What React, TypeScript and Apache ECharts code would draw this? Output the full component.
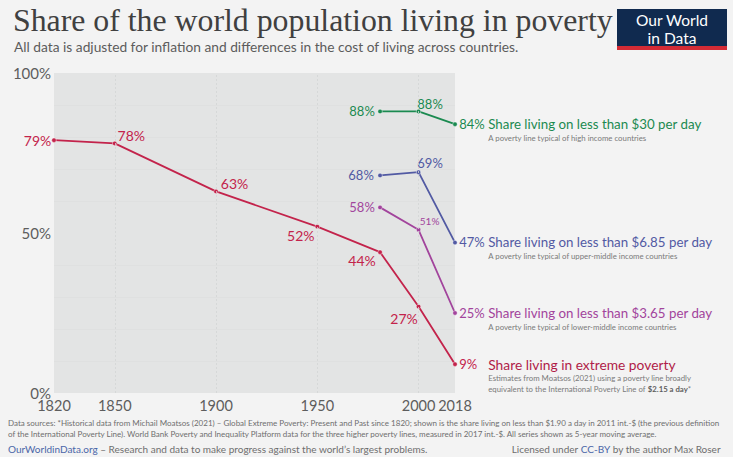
import React, { useEffect, useRef } from "react";
import * as echarts from "echarts";

// ---------- data ----------
const extremeYears = [1820, 1850, 1900, 1950, 1981, 2000, 2018];
const extremeValues = [79, 78, 63, 52, 44, 27, 9];
const wbYears = [1981, 2000, 2018];
const under30Values = [88, 88, 84];
const under685Values = [68, 69, 47];
const under365Values = [58, 51, 25];
const xTickValues = [1820, 1850, 1900, 1950, 2000, 2018];
const xGridYears = [1850, 1900, 1950, 2000];

const seriesNames = [
  "Share living on less than $30 per day",
  "Share living on less than $6.85 per day",
  "Share living on less than $3.65 per day",
  "Share living in extreme poverty",
];
const seriesNotes = [
  "{s|A poverty line typical of high income countries}",
  "{s|A poverty line typical of upper-middle income countries}",
  "{s|A poverty line typical of lower-middle income countries}",
  "{s|Estimates from Moatsos (2021) using a poverty line broadly}\n{s|equivalent to the International Poverty Line of }{b|$2.15 a day}{n|*}",
];

const TITLE = "Share of the world population living in poverty";
const SUBTITLE =
  "All data is adjusted for inflation and differences in the cost of living across countries.";
const SOURCE1 =
  "Data sources: *Historical data from Michail Moatsos (2021) – Global Extreme Poverty: Present and Past since 1820; shown is the share living on less than $1.90 a day in 2011 int.-$ (the previous definition";
const SOURCE2 =
  "of the International Poverty Line). World Bank Poverty and Inequality Platform data for the three higher poverty lines, measured in 2017 int.-$. All series shown as 5-year moving average.";

const GREEN = "#1b8a50";
const BLUE = "#525aa3";
const PURPLE = "#a2449c";
const RED = "#c3234b";
const FONT = "Lato, 'Noto Sans', sans-serif";

type LabelSpec = {
  position: string;
  distance?: number;
  offset?: number[];
  fontSize?: number;
};

function endLabel(color: string, value: number, idx: number) {
  const twoLines = idx === 3;
  return {
    show: true,
    position: "right",
    distance: 1.5,
    offset: [0, twoLines ? 11 : 5],
    formatter: `{v|${value}%}{t|${seriesNames[idx]}}\n${seriesNotes[idx]}`,
    rich: {
      v: { color, fontSize: 13, fontFamily: FONT, width: 29, lineHeight: 17 },
      t: {
        color: idx === 3 ? "#b01c48" : color,
        fontSize: idx === 3 ? 13.8 : 13.3,
        fontFamily: FONT,
        lineHeight: 17,
      },
      s: { color: "#7a7a7a", fontSize: 7.8, fontFamily: FONT, lineHeight: 11, padding: [0, 0, 0, 29] },
      b: { color: "#5e5e5e", fontSize: 7.8, fontFamily: FONT, fontWeight: "bold", lineHeight: 11 },
      n: { color: "#7a7a7a", fontSize: 7.8, fontFamily: FONT, lineHeight: 11 },
    },
  };
}

function buildData(
  xs: number[],
  ys: number[],
  color: string,
  specs: LabelSpec[],
  idx: number,
  baseSize: number
) {
  return xs.map((x, i) => {
    if (i === xs.length - 1) {
      return { value: [x, ys[i]], label: endLabel(color, ys[i], idx) };
    }
    const s = specs[i];
    return {
      value: [x, ys[i]],
      label: {
        show: true,
        position: s.position,
        distance: s.distance ?? 0,
        offset: s.offset ?? [0, 0],
        formatter: `${ys[i]}%`,
        color,
        fontSize: s.fontSize ?? baseSize,
        fontFamily: FONT,
      },
    };
  });
}

function lineSeries(name: string, color: string, data: any[]) {
  return {
    name,
    type: "line",
    data,
    symbol: "circle",
    symbolSize: 4.5,
    showSymbol: true,
    lineStyle: { color, width: 1.8 },
    itemStyle: { color, borderColor: "rgba(255,255,255,0.45)", borderWidth: 1 },
    emphasis: { disabled: true },
    z: 3,
  };
}

export default function App() {
  const ref = useRef<HTMLDivElement>(null);
  useEffect(() => {
    document.body.style.margin = "0";
    if (!ref.current) return;
    const chart = echarts.init(ref.current, undefined, { renderer: "svg" });

    const greenData = buildData(wbYears, under30Values, GREEN, [
      { position: "left", distance: 2.5 },
      { position: "right", distance: 0, offset: [-4, -7.5] },
    ], 0, 13);
    const blueData = buildData(wbYears, under685Values, BLUE, [
      { position: "left", distance: 3.5 },
      { position: "right", distance: 0, offset: [-4, -9.5] },
    ], 1, 13);
    const purpleData = buildData(wbYears, under365Values, PURPLE, [
      { position: "left", distance: 2.5 },
      { position: "right", distance: 0, offset: [-1.5, -8.5], fontSize: 10 },
    ], 2, 13);
    const redData = buildData(extremeYears, extremeValues, RED, [
      { position: "left", distance: 0 },
      { position: "right", distance: 0, offset: [0, -8] },
      { position: "right", distance: 2, offset: [0, -7.5] },
      { position: "left", distance: 0, offset: [0, 9] },
      { position: "left", distance: 1.5, offset: [0, 8.7] },
      { position: "left", distance: 0, offset: [2, 11.7] },
    ], 3, 14);

    chart.setOption({
      animation: false,
      backgroundColor: "#f3f3f3",
      textStyle: { fontFamily: FONT },
      grid: {
        left: 54,
        top: 73,
        width: 401,
        height: 320,
        show: true,
        backgroundColor: "#e3e4e4",
        borderWidth: 0,
      },
      xAxis: {
        type: "value",
        min: 1820,
        max: 2018,
        axisLine: { show: false },
        axisTick: { show: false },
        splitLine: { show: false },
        axisLabel: {
          customValues: xTickValues,
          formatter: (v: number) => String(v),
          color: "#5d5d5d",
          fontSize: 14.5,
          lineHeight: 13,
          fontFamily: FONT,
          margin: 6,
          hideOverlap: false,
          showMinLabel: true,
          showMaxLabel: true,
        },
      },
      yAxis: {
        type: "value",
        min: 0,
        max: 100,
        interval: 50,
        axisLine: { show: false },
        axisTick: { show: false },
        splitLine: { show: false },
        minorTick: { show: false, splitNumber: 5 },
        minorSplitLine: { show: true, lineStyle: { color: "#dcdddd", width: 0.6 } },
        axisLabel: {
          formatter: "{value}%",
          color: "#5d5d5d",
          fontSize: 15,
          lineHeight: 13,
          fontFamily: FONT,
          margin: 3,
        },
      },
      series: [
        {
          type: "line",
          data: [],
          silent: true,
          markLine: {
            silent: true,
            symbol: "none",
            label: { show: false },
            lineStyle: { color: "#d3d4d4", type: [2, 2], width: 0.8 },
            data: xGridYears.map((y) => ({ xAxis: y })),
          },
          z: 1,
        },
        lineSeries(seriesNames[0], GREEN, greenData),
        lineSeries(seriesNames[1], BLUE, blueData),
        lineSeries(seriesNames[2], PURPLE, purpleData),
        lineSeries(seriesNames[3], RED, redData),
      ],
      graphic: [
        {
          type: "text",
          left: 13,
          top: 4,
          style: {
            text: TITLE,
            font: "31.8px 'Liberation Serif', serif",
            fill: "#404040",
          },
        },
        {
          type: "text",
          left: 14,
          top: 39,
          style: {
            text: SUBTITLE,
            font: `13.75px ${FONT}`,
            fill: "#5c5c5c",
          },
        },
        {
          type: "group",
          left: 617,
          top: 9,
          children: [
            { type: "rect", shape: { x: 0, y: 0, width: 110, height: 41 }, style: { fill: "#102a4f" } },
            { type: "rect", shape: { x: 0, y: 37, width: 110, height: 4 }, style: { fill: "#d42b35" } },
            {
              type: "text",
              x: 55,
              y: 10.5,
              style: { text: "Our World", font: `15.5px ${FONT}`, fill: "#ffffff", align: "center", verticalAlign: "middle" },
            },
            {
              type: "text",
              x: 55,
              y: 28.5,
              style: { text: "in Data", font: `15.5px ${FONT}`, fill: "#ffffff", align: "center", verticalAlign: "middle" },
            },
          ],
        },
        {
          type: "text",
          left: 8,
          top: 419,
          style: { text: SOURCE1, font: `8px ${FONT}`, fill: "#6e6e6e" },
        },
        {
          type: "text",
          left: 8,
          top: 430,
          style: { text: SOURCE2, font: `8px ${FONT}`, fill: "#6e6e6e" },
        },
        {
          type: "text",
          left: 8,
          top: 444,
          style: {
            text: "{a|OurWorldinData.org} – Research and data to make progress against the world’s largest problems.",
            font: `10px ${FONT}`,
            fill: "#6e6e6e",
            rich: { a: { fill: "#4a66a8", font: `10px ${FONT}` } },
          },
        },
        {
          type: "text",
          right: 12,
          top: 444,
          style: {
            text: "Licensed under {a|CC-BY} by the author Max Roser",
            font: `10px ${FONT}`,
            fill: "#6e6e6e",
            rich: { a: { fill: "#4a66a8", font: `10px ${FONT}` } },
          },
        },
      ],
    });
    return () => chart.dispose();
  }, []);

  return (
    <div style={{ width: 743, height: 460, background: "#ffffff", position: "relative" }}>
      <div ref={ref} style={{ width: 733, height: 457 }} />
    </div>
  );
}
